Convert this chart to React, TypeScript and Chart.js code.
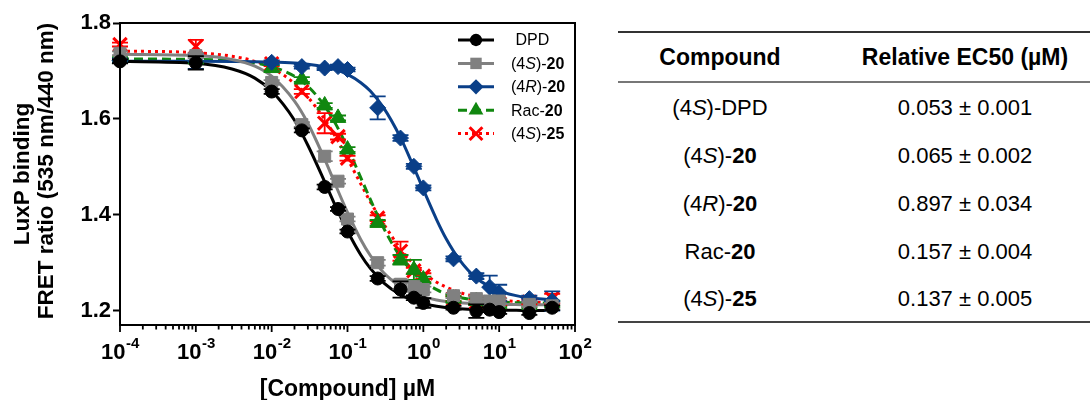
import React, { useEffect, useRef } from 'react';
import { Chart, registerables } from 'chart.js';

Chart.register(...registerables);

// ---------- data ----------
const concentrations = [0.0001, 0.001, 0.01, 0.025, 0.05, 0.075, 0.1, 0.25, 0.5, 0.75, 1, 2.5, 5, 7.5, 10, 25, 50];

const dpdValues = [1.720, 1.717, 1.657, 1.576, 1.458, 1.412, 1.365, 1.267, 1.244, 1.227, 1.216, 1.206, 1.199, 1.202, 1.197, 1.195, 1.206];
const dpdErrors = [0.004, 0.014, 0.005, 0.004, 0.005, 0.004, 0.004, 0.005, 0.017, 0.005, 0.010, 0.004, 0.014, 0.005, 0.004, 0.004, 0.005];

const s20Values = [1.737, 1.732, 1.676, 1.588, 1.522, 1.470, 1.391, 1.300, 1.255, 1.250, 1.244, 1.231, 1.225, 1.220, 1.220, 1.213, 1.210];
const s20Errors = [0.004, 0.005, 0.005, 0.005, 0.010, 0.005, 0.005, 0.006, 0.010, 0.008, 0.006, 0.005, 0.006, 0.005, 0.005, 0.005, 0.006];

const r20Values = [1.722, 1.720, 1.718, 1.709, 1.706, 1.709, 1.703, 1.623, 1.560, 1.501, 1.456, 1.308, 1.272, 1.249, 1.237, 1.225, 1.220];
const r20Errors = [0.004, 0.016, 0.004, 0.004, 0.004, 0.004, 0.004, 0.024, 0.006, 0.005, 0.005, 0.005, 0.006, 0.024, 0.017, 0.006, 0.020];

const rac20Values = [1.725, 1.724, 1.706, 1.682, 1.628, 1.602, 1.536, 1.383, 1.306, 1.285, 1.265, 1.225, 1.220, 1.215, 1.213, 1.212, 1.215];
const rac20Errors = [0.004, 0.004, 0.006, 0.005, 0.005, 0.005, 0.005, 0.006, 0.010, 0.021, 0.006, 0.005, 0.006, 0.005, 0.005, 0.005, 0.006];

const s25Values = [1.755, 1.751, 1.715, 1.657, 1.591, 1.563, 1.518, 1.393, 1.324, 1.283, 1.272, 1.225, 1.218, 1.215, 1.215, 1.218, 1.225];
const s25Errors = [0.004, 0.014, 0.005, 0.005, 0.021, 0.006, 0.005, 0.006, 0.020, 0.006, 0.006, 0.005, 0.005, 0.005, 0.005, 0.005, 0.010];

// fitted curves, read at these concentrations
const curveConc = [0.0001, 0.001, 0.003, 0.006, 0.01, 0.02, 0.03, 0.05, 0.07, 0.1, 0.15, 0.2, 0.3, 0.5, 0.7, 1, 1.5, 2, 3, 5, 10, 20, 50];
const dpdCurve = [1.720, 1.716, 1.704, 1.685, 1.658, 1.597, 1.545, 1.469, 1.417, 1.366, 1.316, 1.288, 1.258, 1.233, 1.223, 1.215, 1.209, 1.2065, 1.204, 1.202, 1.201, 1.2005, 1.200];
const s20Curve = [1.735, 1.732, 1.724, 1.710, 1.689, 1.637, 1.591, 1.516, 1.461, 1.405, 1.348, 1.315, 1.279, 1.250, 1.2375, 1.2286, 1.222, 1.219, 1.2163, 1.2143, 1.213, 1.2125, 1.212];
const r20Curve = [1.720, 1.720, 1.7197, 1.7193, 1.7186, 1.7165, 1.714, 1.7085, 1.7026, 1.6927, 1.6755, 1.658, 1.623, 1.561, 1.510, 1.4525, 1.3895, 1.350, 1.306, 1.268, 1.241, 1.2287, 1.2227];
const rac20Curve = [1.725, 1.724, 1.7214, 1.7164, 1.709, 1.689, 1.668, 1.627, 1.589, 1.540, 1.477, 1.432, 1.372, 1.312, 1.283, 1.261, 1.2437, 1.235, 1.2274, 1.2216, 1.218, 1.2162, 1.2155];
const s25Curve = [1.7416, 1.738, 1.7307, 1.720, 1.706, 1.674, 1.6456, 1.599, 1.5618, 1.517, 1.464, 1.427, 1.381, 1.329, 1.3018, 1.279, 1.2591, 1.249, 1.238, 1.229, 1.222, 1.2186, 1.2164];

// axes
const yTickValues = [1.2, 1.4, 1.6, 1.8];
const xDecadeExponents = [-4, -3, -2, -1, 0, 1, 2];
const yMin = 1.17;
const yMax = 1.8;

// legend / table text (segments: [text, style]; style '' normal, 'i' italic, 'b' bold)
type Seg = [string, string];
const legendNames: Seg[][] = [
  [[' DPD', '']],
  [['(4', ''], ['S', 'i'], [')-', ''], ['20', 'b']],
  [['(4', ''], ['R', 'i'], [')-', ''], ['20', 'b']],
  [['Rac-', ''], ['20', 'b']],
  [['(4', ''], ['S', 'i'], [')-', ''], ['25', 'b']],
];
const tableNames: Seg[][] = [
  [['(4', ''], ['S', 'i'], [')-DPD', '']],
  [['(4', ''], ['S', 'i'], [')-', ''], ['20', 'b']],
  [['(4', ''], ['R', 'i'], [')-', ''], ['20', 'b']],
  [['Rac-', ''], ['20', 'b']],
  [['(4', ''], ['S', 'i'], [')-', ''], ['25', 'b']],
];
const ec50Means = [0.053, 0.065, 0.897, 0.157, 0.137];
const ec50Errors = [0.001, 0.002, 0.034, 0.004, 0.005];
const tableHeaders = ['Compound', 'Relative EC50 (\u00b5M)'];
const PLUS_MINUS = '\u00b1';

// ---------- styles ----------
const FONT = '"Liberation Sans", Arial, Helvetica, sans-serif';
const seriesStyles = [
  { color: '#000000', marker: 'circle', radius: 6.5, dash: [] as number[], bw: 1 },
  { color: '#808080', marker: 'rect', radius: 8.5, dash: [] as number[], bw: 1 },
  { color: '#0a3f88', marker: 'rectRot', radius: 8, dash: [] as number[], bw: 1 },
  { color: '#10870f', marker: 'triangle', radius: 9, dash: [9, 5], bw: 1 },
  { color: '#ff0000', marker: 'crossRot', radius: 9.5, dash: [3, 4], bw: 3 },
];
const pointValues = [dpdValues, s20Values, r20Values, rac20Values, s25Values];
const pointErrors = [dpdErrors, s20Errors, r20Errors, rac20Errors, s25Errors];
const curveValues = [dpdCurve, s20Curve, r20Curve, rac20Curve, s25Curve];

function drawMarker(ctx: CanvasRenderingContext2D, kind: string, x: number, y: number, r: number, color: string) {
  ctx.save();
  ctx.setLineDash([]);
  ctx.fillStyle = color;
  ctx.strokeStyle = color;
  ctx.beginPath();
  if (kind === 'circle') {
    ctx.arc(x, y, r, 0, Math.PI * 2);
    ctx.fill();
  } else if (kind === 'rect') {
    const s = Math.SQRT1_2 * r;
    ctx.rect(x - s, y - s, 2 * s, 2 * s);
    ctx.fill();
  } else if (kind === 'rectRot') {
    ctx.moveTo(x - r, y);
    ctx.lineTo(x, y - r);
    ctx.lineTo(x + r, y);
    ctx.lineTo(x, y + r);
    ctx.closePath();
    ctx.fill();
  } else if (kind === 'triangle') {
    const a = (2 * Math.PI) / 3;
    ctx.moveTo(x, y - r);
    ctx.lineTo(x + Math.sin(a) * r, y - Math.cos(a) * r);
    ctx.lineTo(x + Math.sin(2 * a) * r, y - Math.cos(2 * a) * r);
    ctx.closePath();
    ctx.fill();
  } else if (kind === 'crossRot') {
    const o = Math.SQRT1_2 * r;
    ctx.lineWidth = 3;
    ctx.moveTo(x - o, y - o);
    ctx.lineTo(x + o, y + o);
    ctx.moveTo(x + o, y - o);
    ctx.lineTo(x - o, y + o);
    ctx.stroke();
  }
  ctx.restore();
}

function segFont(style: string, size: number) {
  if (style === 'i') return `italic ${size}px ${FONT}`;
  if (style === 'b') return `bold ${size}px ${FONT}`;
  return `${size}px ${FONT}`;
}

const errorBarPlugin = {
  id: 'errorBars',
  beforeDatasetDraw(chart: any, args: any) {
    const ds = chart.data.datasets[args.index];
    if (!ds.errors) return;
    const ctx = chart.ctx;
    const ys = chart.scales.y;
    ctx.save();
    ctx.strokeStyle = ds.borderColor;
    ctx.lineWidth = 1.8;
    ctx.setLineDash([]);
    args.meta.data.forEach((pt: any, i: number) => {
      const v = ds.data[i].y;
      const e = ds.errors[i];
      const yTop = ys.getPixelForValue(v + e);
      const yBot = ys.getPixelForValue(v - e);
      const x = pt.x;
      ctx.beginPath();
      ctx.moveTo(x, yTop);
      ctx.lineTo(x, yBot);
      ctx.moveTo(x - 8, yTop);
      ctx.lineTo(x + 8, yTop);
      ctx.moveTo(x - 8, yBot);
      ctx.lineTo(x + 8, yBot);
      ctx.stroke();
    });
    ctx.restore();
  },
};

const decorPlugin = {
  id: 'decor',
  afterDraw(chart: any) {
    const ctx: CanvasRenderingContext2D = chart.ctx;
    const a = chart.chartArea;
    const xs = chart.scales.x;
    ctx.save();
    // frame
    ctx.strokeStyle = '#000';
    ctx.lineWidth = 2;
    ctx.setLineDash([]);
    ctx.strokeRect(a.left, a.top, a.right - a.left, a.bottom - a.top);

    // x ticks
    ctx.lineWidth = 1.8;
    ctx.beginPath();
    xDecadeExponents.forEach((e) => {
      const px = xs.getPixelForValue(Math.pow(10, e));
      ctx.moveTo(px, a.bottom);
      ctx.lineTo(px, a.bottom + 7);
      if (e < xDecadeExponents[xDecadeExponents.length - 1]) {
        for (let m = 2; m <= 9; m++) {
          const mx = xs.getPixelForValue(m * Math.pow(10, e));
          ctx.moveTo(mx, a.bottom);
          ctx.lineTo(mx, a.bottom + 4.5);
        }
      }
    });
    ctx.stroke();

    // x tick labels 10^n
    ctx.fillStyle = '#000';
    ctx.textBaseline = 'alphabetic';
    ctx.textAlign = 'left';
    xDecadeExponents.forEach((e) => {
      const px = xs.getPixelForValue(Math.pow(10, e));
      ctx.font = `bold 22px ${FONT}`;
      const w1 = ctx.measureText('10').width;
      ctx.font = `bold 15px ${FONT}`;
      const w2 = ctx.measureText(String(e)).width;
      const x0 = px - (w1 + w2) / 2;
      ctx.font = `bold 22px ${FONT}`;
      ctx.fillText('10', x0, 359);
      ctx.font = `bold 15px ${FONT}`;
      ctx.fillText(String(e), x0 + w1 + 0.5, 348);
    });

    // x title
    ctx.font = `bold 23px ${FONT}`;
    ctx.textAlign = 'center';
    ctx.fillText('[Compound] \u00b5M', (a.left + a.right) / 2, 396);

    // y titles
    const cy = (a.top + a.bottom) / 2 - 3;
    ctx.font = `bold 22.5px ${FONT}`;
    ctx.textBaseline = 'middle';
    ctx.save();
    ctx.translate(23, cy + 3);
    ctx.rotate(-Math.PI / 2);
    ctx.fillText('LuxP binding', 0, 0);
    ctx.restore();
    ctx.save();
    ctx.translate(46.5, cy);
    ctx.rotate(-Math.PI / 2);
    ctx.fillText('FRET ratio (535 nm/440 nm)', 0, 0);
    ctx.restore();

    // legend
    legendNames.forEach((segs, i) => {
      const st = seriesStyles[i];
      const y = 40 + i * 23.4;
      ctx.strokeStyle = st.color;
      ctx.lineWidth = 3;
      ctx.setLineDash(st.dash);
      ctx.beginPath();
      ctx.moveTo(458, y);
      ctx.lineTo(494, y);
      ctx.stroke();
      ctx.setLineDash([]);
      drawMarker(ctx, st.marker, 476, y, st.radius * 0.95, st.color);
      let x = 511;
      ctx.fillStyle = '#000';
      ctx.textAlign = 'left';
      ctx.textBaseline = 'middle';
      segs.forEach(([t, s]) => {
        ctx.font = segFont(s, 16);
        ctx.fillText(t, x, y + 1);
        x += ctx.measureText(t).width;
      });
    });
    ctx.restore();
  },
};

function Name({ segs }: { segs: Seg[] }) {
  return (
    <>
      {segs.map(([t, s], i) =>
        s === 'i' ? <i key={i}>{t}</i> : s === 'b' ? <b key={i}>{t}</b> : <span key={i}>{t}</span>
      )}
    </>
  );
}

export default function App() {
  const ref = useRef<HTMLCanvasElement>(null);
  useEffect(() => {
    if (!ref.current) return;
    const pointSets = pointValues.map((vals, i) => {
      const st = seriesStyles[i];
      return {
        label: 'pts' + i,
        data: concentrations.map((c, j) => ({ x: c, y: vals[j] })),
        errors: pointErrors[i],
        showLine: false,
        borderColor: st.color,
        backgroundColor: st.color,
        pointStyle: st.marker,
        pointRadius: st.radius,
        pointBorderWidth: st.bw,
        pointBackgroundColor: st.color,
        pointBorderColor: st.color,
        order: i,
        clip: false,
      };
    });
    const curveSets = curveValues.map((vals, i) => {
      const st = seriesStyles[i];
      return {
        label: 'fit' + i,
        data: curveConc.map((c, j) => ({ x: c, y: vals[j] })),
        showLine: true,
        borderColor: st.color,
        backgroundColor: st.color,
        borderWidth: 3,
        borderDash: st.dash,
        pointRadius: 0,
        cubicInterpolationMode: 'monotone',
        fill: false,
        order: 10 + i,
      };
    });
    const chart = new Chart(ref.current, {
      type: 'line',
      data: { datasets: [...pointSets, ...curveSets] as any },
      options: {
        animation: false,
        responsive: false,
        devicePixelRatio: 1,
        layout: { padding: { top: 23, right: 25, left: 0, bottom: 0 } },
        plugins: { legend: { display: false }, tooltip: { enabled: false } },
        scales: {
          x: {
            type: 'logarithmic',
            min: 0.0001,
            max: 100,
            ticks: { display: false },
            grid: { display: false },
            border: { display: false },
            afterFit: (s: any) => { s.height = 75; },
          },
          y: {
            type: 'linear',
            min: yMin,
            max: yMax,
            afterBuildTicks: (s: any) => { s.ticks = yTickValues.map((v) => ({ value: v })); },
            ticks: {
              color: '#000',
              font: { family: FONT, size: 22, weight: 'bold' },
              padding: 2,
              callback: (v: any) => Number(v).toFixed(1),
            },
            grid: { drawOnChartArea: false, drawTicks: true, tickLength: 7, tickWidth: 2, tickColor: '#000' },
            border: { display: false },
            afterFit: (s: any) => { s.width = 120; },
          },
        },
      } as any,
      plugins: [errorBarPlugin, decorPlugin],
    });
    return () => chart.destroy();
  }, []);

  const cellStyle: React.CSSProperties = { textAlign: 'center', padding: 0, fontSize: 22 };
  const bodyCell: React.CSSProperties = { ...cellStyle, paddingTop: 3 };
  return (
    <div style={{ position: 'fixed', left: 0, top: 0, width: 1090, height: 400, overflow: 'hidden', background: '#fff', fontFamily: FONT }}>
      <div style={{ position: 'absolute', left: 0, top: 0, width: 600, height: 400 }}>
        <canvas ref={ref} width={600} height={400} />
      </div>
      <table style={{ position: 'absolute', left: 618, top: 31, width: 490, borderCollapse: 'collapse', tableLayout: 'fixed', color: '#000' }}>
        <colgroup>
          <col style={{ width: 204 }} />
          <col style={{ width: 286 }} />
        </colgroup>
        <thead>
          <tr style={{ height: 50, borderTop: '2px solid #333', borderBottom: '2px solid #777' }}>
            {tableHeaders.map((h) => (
              <th key={h} style={{ ...cellStyle, fontSize: 23, fontWeight: 'bold' }}>{h}</th>
            ))}
          </tr>
        </thead>
        <tbody>
          {tableNames.map((segs, i) => (
            <tr key={i} style={{ height: 48, borderBottom: i === tableNames.length - 1 ? '2px solid #444' : 'none' }}>
              <td style={bodyCell}><Name segs={segs} /></td>
              <td style={bodyCell}>{`${ec50Means[i].toFixed(3)} ${PLUS_MINUS} ${ec50Errors[i].toFixed(3)}`}</td>
            </tr>
          ))}
        </tbody>
      </table>
    </div>
  );
}
